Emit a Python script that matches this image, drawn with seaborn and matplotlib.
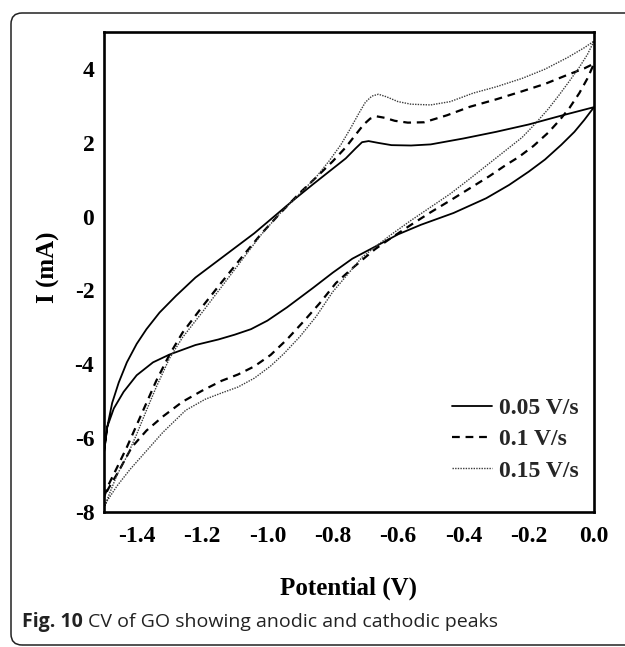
import numpy as np
import pandas as pd
import matplotlib
matplotlib.use("Agg")
import matplotlib.pyplot as plt
from matplotlib.patches import FancyBboxPatch
import seaborn as sns

# DATA #
rates = ["0.05 V/s", "0.1 V/s", "0.15 V/s"]

# 0.05 V/s : forward (anodic) branch, then return (cathodic) branch
e_fwd_005 = [-1.500, -1.490, -1.475, -1.455, -1.430, -1.400, -1.370, -1.330, -1.280, -1.220,
             -1.160, -1.100, -1.040, -0.980, -0.920, -0.860, -0.800, -0.760, -0.730, -0.710,
             -0.690, -0.660, -0.620, -0.560, -0.500, -0.400, -0.300, -0.200, -0.100, 0.000]
i_fwd_005 = [-6.40, -5.70, -5.05, -4.50, -3.95, -3.45, -3.05, -2.60, -2.15, -1.65,
             -1.25, -0.85, -0.45, 0.00, 0.45, 0.88, 1.30, 1.58, 1.85, 2.02,
             2.05, 2.00, 1.94, 1.93, 1.96, 2.12, 2.30, 2.50, 2.74, 2.97]
e_rev_005 = [0.000, -0.030, -0.060, -0.100, -0.150, -0.200, -0.260, -0.330, -0.430, -0.530,
             -0.600, -0.680, -0.740, -0.800, -0.860, -0.940, -1.000, -1.050, -1.100, -1.150,
             -1.220, -1.300, -1.350, -1.400, -1.440, -1.470, -1.490, -1.500]
i_rev_005 = [2.97, 2.62, 2.30, 1.95, 1.55, 1.22, 0.86, 0.50, 0.10, -0.22,
             -0.48, -0.86, -1.14, -1.52, -1.93, -2.46, -2.82, -3.05, -3.20, -3.33,
             -3.48, -3.74, -3.95, -4.30, -4.75, -5.20, -5.70, -6.40]

# 0.1 V/s
e_fwd_01 = [-1.500, -1.485, -1.460, -1.430, -1.400, -1.370, -1.340, -1.300, -1.260, -1.200,
            -1.140, -1.080, -1.020, -0.960, -0.900, -0.850, -0.800, -0.760, -0.730, -0.705,
            -0.685, -0.665, -0.640, -0.610, -0.570, -0.520, -0.450, -0.380, -0.300, -0.220,
            -0.150, -0.080, -0.030, 0.000]
i_fwd_01 = [-7.60, -7.25, -6.80, -6.25, -5.65, -5.05, -4.45, -3.75, -3.15, -2.45,
            -1.78, -1.12, -0.48, 0.10, 0.65, 1.07, 1.50, 1.88, 2.22, 2.50,
            2.66, 2.72, 2.68, 2.60, 2.55, 2.56, 2.75, 2.98, 3.18, 3.40,
            3.60, 3.85, 4.02, 4.15]
e_rev_01 = [0.000, -0.020, -0.045, -0.075, -0.105, -0.140, -0.185, -0.230, -0.270, -0.320,
            -0.380, -0.440, -0.500, -0.560, -0.620, -0.670, -0.700, -0.740, -0.790, -0.840,
            -0.890, -0.940, -0.990, -1.040, -1.090, -1.140, -1.200, -1.260, -1.320, -1.370,
            -1.415, -1.455, -1.485, -1.500]
i_rev_01 = [4.15, 3.75, 3.35, 2.95, 2.62, 2.28, 1.92, 1.62, 1.40, 1.10,
            0.77, 0.44, 0.12, -0.22, -0.57, -0.88, -1.10, -1.40, -1.80, -2.35,
            -2.85, -3.33, -3.75, -4.06, -4.28, -4.45, -4.72, -5.02, -5.42, -5.80,
            -6.25, -6.90, -7.35, -7.60]

# 0.15 V/s
e_fwd_015 = [-1.500, -1.485, -1.460, -1.430, -1.400, -1.370, -1.340, -1.300, -1.260, -1.200,
             -1.140, -1.080, -1.020, -0.960, -0.900, -0.850, -0.810, -0.775, -0.745, -0.720,
             -0.700, -0.680, -0.660, -0.635, -0.600, -0.560, -0.500, -0.440, -0.370, -0.300,
             -0.220, -0.150, -0.080, -0.030, 0.000]
i_fwd_015 = [-7.90, -7.55, -7.00, -6.50, -5.90, -5.25, -4.62, -3.85, -3.28, -2.60,
             -1.90, -1.20, -0.50, 0.10, 0.63, 1.08, 1.52, 1.95, 2.40, 2.80,
             3.10, 3.27, 3.32, 3.25, 3.12, 3.05, 3.03, 3.12, 3.35, 3.52,
             3.75, 4.00, 4.32, 4.58, 4.76]
e_rev_015 = [0.000, -0.020, -0.045, -0.075, -0.105, -0.140, -0.180, -0.220, -0.270, -0.320,
             -0.380, -0.440, -0.500, -0.560, -0.620, -0.670, -0.710, -0.750, -0.800, -0.850,
             -0.900, -0.950, -0.990, -1.040, -1.090, -1.140, -1.190, -1.250, -1.320, -1.375,
             -1.420, -1.460, -1.490, -1.500]
i_rev_015 = [4.76, 4.40, 4.05, 3.68, 3.32, 2.92, 2.52, 2.15, 1.80, 1.45,
             1.03, 0.62, 0.26, -0.10, -0.48, -0.82, -1.10, -1.52, -2.04, -2.70,
             -3.25, -3.72, -4.05, -4.38, -4.62, -4.78, -4.95, -5.25, -5.85, -6.40,
             -6.85, -7.30, -7.70, -7.90]

x_ticks = [-1.4, -1.2, -1.0, -0.8, -0.6, -0.4, -0.2, 0.0]
y_ticks = [-8, -6, -4, -2, 0, 2, 4]

# build one long table, each loop kept in scan order
frames = []
for rate, ef, jf, er, jr in [(rates[0], e_fwd_005, i_fwd_005, e_rev_005, i_rev_005),
                             (rates[1], e_fwd_01, i_fwd_01, e_rev_01, i_rev_01),
                             (rates[2], e_fwd_015, i_fwd_015, e_rev_015, i_rev_015)]:
    frames.append(pd.DataFrame({"E": ef + er, "I": jf + jr, "rate": rate}))
df = pd.concat(frames, ignore_index=True)

# PLOT #
sns.set_theme(style="white")
plt.rcParams["font.family"] = ["Liberation Serif", "DejaVu Serif"]
plt.rcParams["font.weight"] = "bold"

fig = plt.figure(figsize=(6.25, 6.47), dpi=100)
ax = fig.add_axes([0.1664, 0.2091, 0.7840, 0.7410])

sns.lineplot(data=df, x="E", y="I", hue="rate", style="rate", size="rate",
             palette={rates[0]: "black", rates[1]: "black", rates[2]: "#3a3a3a"},
             dashes={rates[0]: "", rates[1]: (3.5, 2.6), rates[2]: (1, 0.9)},
             sizes={rates[0]: 1.3, rates[1]: 1.6, rates[2]: 1.0},
             sort=False, estimator=None, ax=ax)

ax.set_xlim(-1.5, 0.0)
ax.set_ylim(-8, 5)
ax.set_xticks(x_ticks)
ax.set_xticklabels(["%.1f" % v for v in x_ticks])
ax.set_yticks(y_ticks)
ax.set_yticklabels([str(v) for v in y_ticks])

for s in ax.spines.values():
    s.set_color("black")
    s.set_linewidth(1.9)
ax.tick_params(axis="both", direction="out", length=5, width=1.6, color="black",
               labelsize=17, labelcolor="black")
ax.tick_params(axis="x", pad=5)
ax.tick_params(axis="y", pad=2)
for lab in ax.get_xticklabels() + ax.get_yticklabels():
    lab.set_fontweight("bold")

ax.set_xlabel("Potential (V)", fontsize=18, fontweight="bold", color="black")
ax.set_ylabel("I (mA)", fontsize=18, fontweight="bold", color="black")
ax.xaxis.set_label_coords(0.5, -0.159)
ax.xaxis.label.set_va("center")
ax.yaxis.set_label_coords(-0.114, 0.51)
ax.yaxis.label.set_va("center")

handles, labels = ax.get_legend_handles_labels()
leg = ax.legend(handles, labels, loc="upper left", bbox_to_anchor=(0.723, 0.386),
                bbox_transform=fig.transFigure, frameon=False, borderpad=0,
                borderaxespad=0, handlelength=1.7, handletextpad=0.3, labelspacing=0.42,
                prop={"family": "Liberation Serif", "weight": "bold", "size": 17})

# rounded frame around the figure panel
frame = FancyBboxPatch((0.11, 0.02), 6.29, 6.32, boxstyle="round,pad=0,rounding_size=0.11",
                       transform=fig.dpi_scale_trans, fill=False, edgecolor="#222222",
                       linewidth=1.1, clip_on=False)
fig.add_artist(frame)

# caption
cap_y = 1 - 622 / 647
t1 = fig.text(22 / 625, cap_y, "Fig. 10", fontsize=14, fontweight="bold",
              family=["Open Sans", "DejaVu Sans"], color="#222222", va="center")
fig.canvas.draw()
bb = t1.get_window_extent()
fig.text((bb.x1 + 5) / 625, cap_y, "CV of GO showing anodic and cathodic peaks", fontsize=14,
         fontweight="normal", family=["Open Sans", "DejaVu Sans"], color="#222222", va="center")

fig.savefig("out.png", dpi=100)
